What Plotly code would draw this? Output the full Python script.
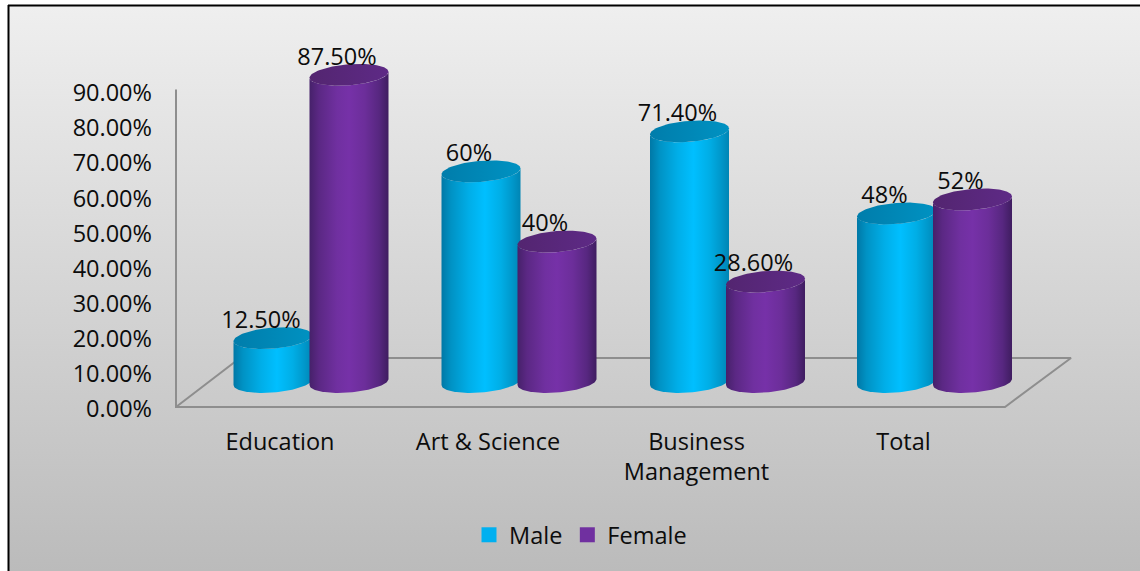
import numpy as np
import plotly.graph_objects as go

# Chart data
categories = ["Education", "Art & Science", "Business<br>Management", "Total"]
male_values = [12.5, 60, 71.4, 48]
female_values = [87.5, 40, 28.6, 52]
male_labels = ["12.50%", "60%", "71.40%", "48%"]
female_labels = ["87.50%", "40%", "28.60%", "52%"]
y_ticks = [0, 10, 20, 30, 40, 50, 60, 70, 80, 90]
y_tick_labels = ["0.00%", "10.00%", "20.00%", "30.00%", "40.00%", "50.00%",
                 "60.00%", "70.00%", "80.00%", "90.00%"]

WIDTH, HEIGHT = 1140, 571
FONT = "Open Sans"
FONT_SIZE = 23.5
INK = "#0c0c0c"
AXIS_GREY = "#8e8e8e"

# One percentage point in pixels, and the pixel row of the zero line
PX_PER_UNIT = 3.511
ZERO_ROW = 407


def units(px):
    return px / PX_PER_UNIT


Y_MIN = units(ZERO_ROW - HEIGHT)
Y_MAX = units(ZERO_ROW)

# Pseudo-3D layout: floor depth, group spacing and cylinder shape
GROUP_CENTRES = [311, 519, 727.5, 934.5]
BAR_OFFSET = 38
RADIUS_X = 39.5
RADIUS_Y = 10.5
TILT = 3
BASE_LIFT = units(25)
FLOOR_DEPTH = units(49)

MALE_BODY = [[0, "#0078a6"], [0.12, "#0092c4"], [0.35, "#00aee8"], [0.55, "#00bfff"],
             [0.75, "#00aee6"], [0.9, "#0097ca"], [1, "#0085b4"]]
FEMALE_BODY = [[0, "#46216a"], [0.12, "#5b2884"], [0.35, "#7030a0"], [0.5, "#7631a8"],
               [0.7, "#6c2e9a"], [0.88, "#572780"], [1, "#3f1d60"]]
MALE_CAP = [[0, "#007dab"], [1, "#0092c2"]]
FEMALE_CAP = [[0, "#532570"], [1, "#5e2a86"]]


def ellipse_edge(cx, cy, t):
    # Slightly rotated ellipse, as if seen from a raised viewpoint
    return cx + RADIUS_X * np.cos(t), cy + units(RADIUS_Y) * np.sin(t) + units(TILT) * np.cos(t)


def cylinder_traces(cx, value, body_scale, cap_scale):
    base = BASE_LIFT
    top = base + value
    front = np.linspace(np.pi, 2 * np.pi, 60)
    xb, yb = ellipse_edge(cx, base, front)
    xt, yt = ellipse_edge(cx, top, front[::-1])
    ring = np.linspace(0, 2 * np.pi, 120)
    xc, yc = ellipse_edge(cx, top, ring)
    body = go.Scatter(
        x=np.r_[xb, xt], y=np.r_[yb, yt], mode="lines", line=dict(width=0),
        fill="toself", fillgradient=dict(type="horizontal", colorscale=body_scale),
        showlegend=False, hoverinfo="skip",
    )
    cap = go.Scatter(
        x=xc, y=yc, mode="lines", line=dict(width=0),
        fill="toself", fillgradient=dict(type="horizontal", colorscale=cap_scale),
        showlegend=False, hoverinfo="skip",
    )
    return [body, cap]


fig = go.Figure()

# Panel background with its vertical gradient
fig.add_trace(go.Scatter(
    x=[9, WIDTH, WIDTH, 9, 9],
    y=[Y_MIN, Y_MIN, units(ZERO_ROW - 5), units(ZERO_ROW - 5), Y_MIN],
    mode="lines", line=dict(width=0), fill="toself",
    fillgradient=dict(type="vertical", colorscale=[[0, "#bbbbbb"], [1, "#efefef"]]),
    showlegend=False, hoverinfo="skip",
))

# Wall line and floor outline
fig.add_trace(go.Scatter(
    x=[176, 176, 1005, 1071, 240, 176],
    y=[y_ticks[-1] + 0.4, 0, 0, FLOOR_DEPTH, FLOOR_DEPTH, 0],
    mode="lines", line=dict(color=AXIS_GREY, width=2),
    showlegend=False, hoverinfo="skip",
))

# Cylinders: the female bar of each group sits in front of the male bar
for centre, m, f in zip(GROUP_CENTRES, male_values, female_values):
    fig.add_traces(cylinder_traces(centre - BAR_OFFSET, m, MALE_BODY, MALE_CAP))
    fig.add_traces(cylinder_traces(centre + BAR_OFFSET, f, FEMALE_BODY, FEMALE_CAP))

# Value labels sit just above each cap
label_x, label_y, label_text = [], [], []
for centre, m, f, ml, fl in zip(GROUP_CENTRES, male_values, female_values, male_labels, female_labels):
    label_x += [centre - BAR_OFFSET - 12, centre + BAR_OFFSET - 12]
    label_y += [BASE_LIFT + m + units(16), BASE_LIFT + f + units(16)]
    label_text += [ml, fl]
fig.add_trace(go.Scatter(
    x=label_x, y=label_y, text=label_text, mode="text", textposition="middle center",
    textfont=dict(family=FONT, size=FONT_SIZE, color=INK),
    showlegend=False, hoverinfo="skip", cliponaxis=False,
))

# Legend entries
for name, colour in (("Male", "#00b0f0"), ("Female", "#7030a0")):
    fig.add_trace(go.Scatter(
        x=[None], y=[None], mode="markers", name=name,
        marker=dict(symbol="square", size=15, color=colour),
    ))

fig.update_layout(
    width=WIDTH, height=HEIGHT,
    margin=dict(l=0, r=0, t=0, b=0),
    paper_bgcolor="white", plot_bgcolor="rgba(0,0,0,0)",
    font=dict(family=FONT, size=FONT_SIZE, color=INK),
    xaxis=dict(
        range=[0, WIDTH], domain=[0, 1], anchor="free",
        position=(HEIGHT - ZERO_ROW) / HEIGHT,
        tickmode="array", tickvals=[c - 31 for c in GROUP_CENTRES], ticktext=categories,
        showgrid=False, zeroline=False, showline=False, ticks="",
        ticklabelstandoff=18, tickangle=0, automargin=False,
    ),
    yaxis=dict(
        range=[Y_MIN, Y_MAX], domain=[0, 1], anchor="free", position=176 / WIDTH,
        tickmode="array", tickvals=y_ticks, ticktext=y_tick_labels,
        showgrid=False, zeroline=False, showline=False, ticks="",
        ticklabelstandoff=24, ticklabelshift=2, automargin=False,
    ),
    legend=dict(
        orientation="h", x=580.5 / WIDTH, xanchor="center", y=(HEIGHT - 535) / HEIGHT, yanchor="middle",
        bgcolor="rgba(0,0,0,0)", itemwidth=30,
        font=dict(family=FONT, size=FONT_SIZE, color=INK),
    ),
    shapes=[
        dict(type="line", xref="paper", yref="paper", x0=8.5 / WIDTH, x1=8.5 / WIDTH,
             y0=0, y1=(HEIGHT - 5) / HEIGHT, line=dict(color="black", width=2), layer="above"),
        dict(type="line", xref="paper", yref="paper", x0=8 / WIDTH, x1=1,
             y0=(HEIGHT - 5.5) / HEIGHT, y1=(HEIGHT - 5.5) / HEIGHT,
             line=dict(color="black", width=2), layer="above"),
    ],
)

fig.write_html("out.html", config=dict(displayModeBar=False))
